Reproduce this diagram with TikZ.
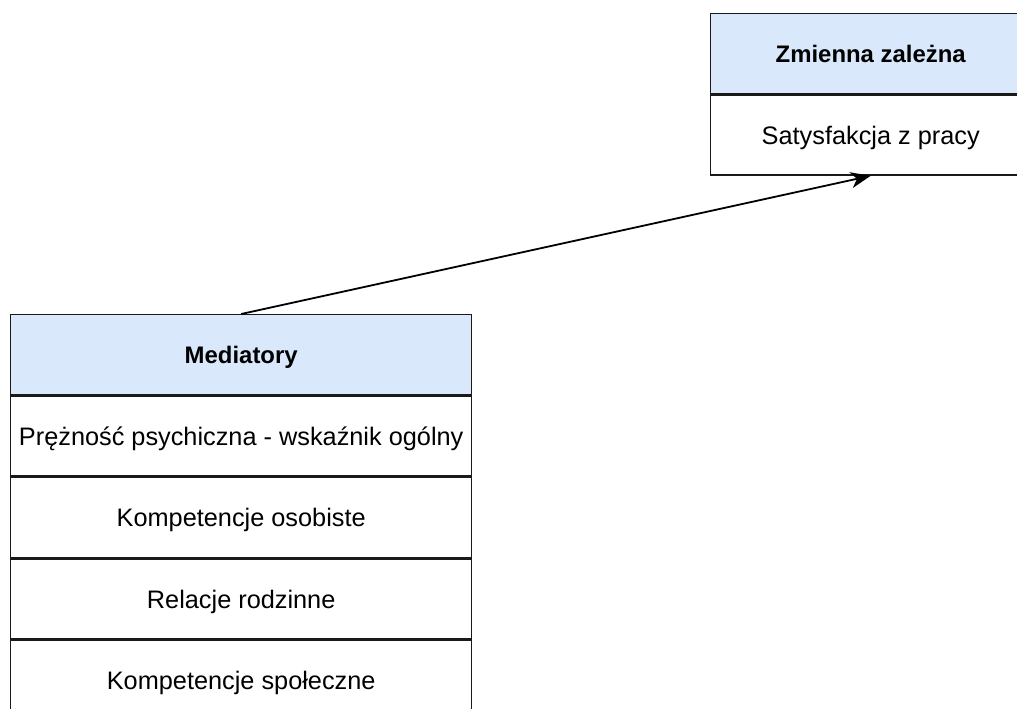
\documentclass[tikz,border=0pt]{standalone}
\usepackage{fontspec}
\setmainfont{Liberation Sans}
\usetikzlibrary{arrows.meta}
\definecolor{hdrfill}{HTML}{DAE8FC}
\definecolor{edge}{HTML}{1A1A1A}
\tikzset{
  cell/.style={draw=edge, line width=1.4bp, rectangle, inner sep=0pt,
    minimum height=80bp, text=black, text depth=0pt,
    font=\fontsize{25.4}{30}\selectfont},
  hdr/.style={cell, fill=hdrfill, font=\fontsize{24}{30}\selectfont\bfseries},
  body/.style={cell, fill=white},
  link/.style={draw=black, line width=1.8bp,
    -{Stealth[length=20bp, width=16bp, inset=6bp]}}
}
\begin{document}
\begin{tikzpicture}[x=1bp, y=-1bp]
  \clip (0,0) rectangle (1017,709);
  \fill[white] (0,0) rectangle (1017,709);

  % dependent variable
  \node[hdr, minimum width=320bp, anchor=north west] (dv) at (710,13) {Zmienna zależna};
  \node[body, minimum width=320bp, anchor=north] (dvbody) at (dv.south) {Satysfakcja z pracy};

  % mediators
  \node[hdr, minimum width=461bp, anchor=north west] (med) at (10,314) {Mediatory};
  \node[body, minimum width=461bp, anchor=north] (m1) at (med.south) {Prężność psychiczna - wskaźnik ogólny};
  \node[body, minimum width=461bp, anchor=north] (m2) at (m1.south) {Kompetencje osobiste};
  \node[body, minimum width=461bp, anchor=north] (m3) at (m2.south) {Relacje rodzinne};
  \node[body, minimum width=461bp, anchor=north] (m4) at (m3.south) {Kompetencje społeczne};

  \draw[link] (med.north) -- (dvbody.south);
\end{tikzpicture}
\end{document}
